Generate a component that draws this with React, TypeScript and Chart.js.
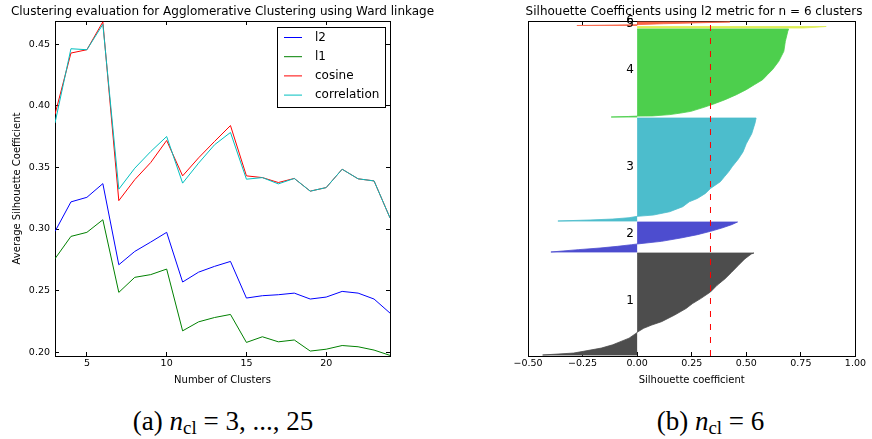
import React, { useEffect, useRef } from 'react';
import { Chart, registerables } from 'chart.js';

Chart.register(...registerables);
Chart.defaults.font.family = "'DejaVu Sans', sans-serif";
Chart.defaults.color = '#000';

// ---------- (a) clustering evaluation ----------
const clusterCounts = [3, 4, 5, 6, 7, 8, 9, 10, 11, 12, 13, 14, 15, 16, 17, 18, 19, 20, 21, 22, 23, 24];
const l2Scores = [0.298, 0.322, 0.3257, 0.3368, 0.271, 0.2818, 0.2894, 0.2973, 0.257, 0.265, 0.2697, 0.2737, 0.244, 0.2459, 0.2467, 0.248, 0.2432, 0.2448, 0.2494, 0.248, 0.2432, 0.2318];
const l1Scores = [0.2759, 0.294, 0.2973, 0.3075, 0.2486, 0.2608, 0.263, 0.2675, 0.2174, 0.2247, 0.2282, 0.2307, 0.208, 0.2126, 0.2085, 0.21, 0.201, 0.2025, 0.2055, 0.2045, 0.2018, 0.1975];
const cosineScores = [0.393, 0.4427, 0.4454, 0.468, 0.323, 0.34, 0.3539, 0.3718, 0.3431, 0.3577, 0.371, 0.3839, 0.3431, 0.3417, 0.3377, 0.341, 0.3307, 0.3336, 0.3485, 0.3407, 0.339, 0.309];
const correlationScores = [0.386, 0.4462, 0.4454, 0.466, 0.3323, 0.3493, 0.3628, 0.375, 0.3372, 0.3534, 0.3683, 0.3783, 0.3404, 0.3417, 0.3366, 0.341, 0.3307, 0.3336, 0.3485, 0.3407, 0.339, 0.309];
const metricNames = ['l2', 'l1', 'cosine', 'correlation'];
const metricColors = ['#0000ff', '#008000', '#ff0000', '#00bfbf'];
const evalYMin = 0.197;
const evalYMax = 0.4687;

// ---------- (b) silhouette plot ----------
const clusterLabels = ['1', '2', '3', '4', '5', '6'];
const clusterSizes = [1020, 300, 1030, 880, 15, 35];
const clusterGap = 10;
const silhouetteAvg = 0.336;
const clusterColors = ['rgb(77,77,77)', 'rgb(77,77,207)', 'rgb(76,189,204)', 'rgb(77,207,77)', 'rgb(222,238,84)', 'rgb(250,100,70)'];

const cluster1Rank = [0, 0.019, 0.036, 0.068, 0.1, 0.133, 0.165, 0.214, 0.223, 0.262, 0.294, 0.327, 0.392, 0.456, 0.505, 0.553, 0.618, 0.683, 0.748, 0.812, 0.877, 0.942, 0.99, 1];
const cluster1Silhouette = [-0.433, -0.291, -0.246, -0.164, -0.112, -0.074, -0.037, -0.004, 0, 0.03, 0.067, 0.112, 0.172, 0.224, 0.254, 0.291, 0.336, 0.366, 0.403, 0.433, 0.463, 0.493, 0.523, 0.535];
const cluster2Rank = [0, 0.078, 0.133, 0.189, 0.244, 0.267, 0.356, 0.467, 0.578, 0.689, 0.8, 0.911, 1];
const cluster2Silhouette = [-0.395, -0.27, -0.17, -0.09, -0.025, 0, 0.112, 0.2, 0.276, 0.336, 0.388, 0.433, 0.46];
const cluster3Rank = [0, 0.01, 0.019, 0.032, 0.045, 0.058, 0.09, 0.139, 0.187, 0.219, 0.268, 0.316, 0.381, 0.43, 0.48, 0.526, 0.6, 0.671, 0.75, 0.848, 0.95, 1];
const cluster3Silhouette = [-0.363, -0.216, -0.112, -0.037, 0, 0.075, 0.149, 0.209, 0.239, 0.276, 0.313, 0.336, 0.381, 0.4, 0.42, 0.435, 0.463, 0.485, 0.5, 0.525, 0.54, 0.545];
const cluster4Rank = [0, 0.006, 0.01, 0.012, 0.027, 0.045, 0.064, 0.11, 0.148, 0.197, 0.254, 0.311, 0.367, 0.424, 0.481, 0.538, 0.633, 0.746, 0.86, 0.973, 1];
const cluster4Silhouette = [-0.119, -0.04, 0, 0.07, 0.15, 0.2, 0.246, 0.306, 0.351, 0.403, 0.455, 0.5, 0.537, 0.575, 0.597, 0.62, 0.649, 0.672, 0.679, 0.69, 0.694];
const cluster5Rank = [0, 0.5, 1];
const cluster5Silhouette = [0.76, 0.82, 0.866];
const cluster6Rank = [0, 0.1, 0.2, 0.25, 0.5, 0.75, 1];
const cluster6Silhouette = [-0.276, -0.15, -0.04, 0, 0.12, 0.27, 0.425];

const clusterRanks = [cluster1Rank, cluster2Rank, cluster3Rank, cluster4Rank, cluster5Rank, cluster6Rank];
const clusterValues = [cluster1Silhouette, cluster2Silhouette, cluster3Silhouette, cluster4Silhouette, cluster5Silhouette, cluster6Silhouette];
const silYMax = clusterSizes.reduce((a, b) => a + b, 0) + (clusterSizes.length + 1) * clusterGap;
const clusterLower = clusterSizes.map((_, k) => clusterGap + clusterSizes.slice(0, k).reduce((a, b) => a + b + clusterGap, 0));

const tickFont = { size: 9.5 };
const labelFont = { size: 10 };
const titleFont = { size: 12, weight: 'normal' as const };

function frameGrid(show: boolean) {
  return { display: show, drawOnChartArea: false, drawTicks: true, tickLength: -4, color: '#000', lineWidth: 1 };
}
const border = { display: true, color: '#000', width: 1 };

const evalLegendPlugin = {
  id: 'evalLegend',
  afterDraw(chart: any) {
    const { ctx, chartArea } = chart;
    const w = 108, h = 80;
    const x0 = Math.round(chartArea.right - 5 - w);
    const y0 = Math.round(chartArea.top + 6);
    ctx.save();
    ctx.fillStyle = '#fff';
    ctx.fillRect(x0, y0, w, h);
    ctx.strokeStyle = '#000';
    ctx.lineWidth = 1;
    ctx.strokeRect(x0 + 0.5, y0 + 0.5, w, h);
    ctx.font = "12px 'DejaVu Sans'";
    ctx.textBaseline = 'middle';
    ctx.textAlign = 'left';
    chart.data.datasets.forEach((ds: any, i: number) => {
      const cy = y0 + 10.5 + i * 19.2;
      ctx.strokeStyle = ds.borderColor;
      ctx.beginPath();
      ctx.moveTo(x0 + 7, cy);
      ctx.lineTo(x0 + 25, cy);
      ctx.stroke();
      ctx.fillStyle = '#000';
      ctx.fillText(ds.label, x0 + 38, cy);
    });
    ctx.restore();
  },
};

const clusterLabelPlugin = {
  id: 'clusterLabels',
  afterDatasetsDraw(chart: any) {
    const { ctx } = chart;
    const xs = chart.scales.x, ys = chart.scales.y;
    ctx.save();
    ctx.font = "12px 'DejaVu Sans'";
    ctx.fillStyle = '#000';
    ctx.textAlign = 'left';
    ctx.textBaseline = 'alphabetic';
    clusterLabels.forEach((lab, k) => {
      const mid = clusterLower[k] + 0.5 * clusterSizes[k];
      ctx.fillText(lab, xs.getPixelForValue(-0.05), ys.getPixelForValue(mid));
    });
    ctx.restore();
  },
};

function EvalChart() {
  const ref = useRef<HTMLCanvasElement>(null);
  useEffect(() => {
    const series = [l2Scores, l1Scores, cosineScores, correlationScores];
    const chart = new Chart(ref.current!, {
      type: 'line',
      data: {
        datasets: series.map((s, i) => ({
          label: metricNames[i],
          data: clusterCounts.map((x, j) => ({ x, y: s[j] })),
          borderColor: metricColors[i],
          backgroundColor: metricColors[i],
          borderWidth: 1,
          pointRadius: 0,
          tension: 0,
          fill: false,
          order: 3 - i,
        })),
      },
      options: {
        animation: false,
        responsive: false,
        events: [],
        layout: { padding: { left: 5, right: 0, top: 0, bottom: 0 } },
        plugins: {
          legend: { display: false },
          tooltip: { enabled: false },
          title: {
            display: true,
            text: 'Clustering evaluation for Agglomerative Clustering using Ward linkage',
            fullSize: true,
            font: titleFont,
            color: '#000',
            padding: { top: 4.8, bottom: 1.8 },
          },
        },
        scales: {
          x: {
            type: 'linear', position: 'bottom', min: clusterCounts[0], max: clusterCounts[clusterCounts.length - 1],
            ticks: { stepSize: 5, includeBounds: false, padding: 6, font: tickFont, color: '#000', maxRotation: 0 },
            grid: frameGrid(true), border,
            title: { display: true, text: 'Number of Clusters', font: labelFont, color: '#000', padding: { top: 0, bottom: 9 } },
            afterFit: (s: any) => { s.height = 39; },
          },
          x2: {
            type: 'linear', position: 'top', min: clusterCounts[0], max: clusterCounts[clusterCounts.length - 1],
            ticks: { stepSize: 5, includeBounds: false, display: false },
            grid: frameGrid(true), border,
            afterFit: (s: any) => { s.height = 0; },
          },
          y: {
            type: 'linear', position: 'left', min: evalYMin, max: evalYMax,
            ticks: { stepSize: 0.05, includeBounds: false, padding: 9, font: tickFont, color: '#000', callback: (v: any) => Number(v).toFixed(2) },
            grid: frameGrid(true), border,
            title: { display: true, text: 'Average Silhouette Coefficient', font: labelFont, color: '#000', padding: { top: 6, bottom: 0 } },
            afterFit: (s: any) => { s.width = 50; },
          },
          y2: {
            type: 'linear', position: 'right', min: evalYMin, max: evalYMax,
            ticks: { stepSize: 0.05, includeBounds: false, display: false },
            grid: frameGrid(true), border,
            afterFit: (s: any) => { s.width = 50; },
          },
        },
      } as any,
      plugins: [evalLegendPlugin],
    });
    return () => chart.destroy();
  }, []);
  return <canvas ref={ref} width={440} height={395} style={{ position: 'absolute', left: 0, top: 0, width: 440, height: 395 }} />;
}

function SilhouetteChart() {
  const ref = useRef<HTMLCanvasElement>(null);
  useEffect(() => {
    const clusterSets = clusterSizes.map((size, k) => {
      const lower = clusterLower[k];
      const pts = [{ x: 0, y: lower }];
      clusterRanks[k].forEach((f, i) => pts.push({ x: clusterValues[k][i], y: lower + f * size }));
      pts.push({ x: 0, y: lower + size });
      return {
        label: clusterLabels[k],
        data: pts,
        borderColor: clusterColors[k],
        backgroundColor: clusterColors[k],
        borderWidth: 0.8,
        pointRadius: 0,
        tension: 0,
        fill: 'shape',
        order: 1,
      };
    });
    const avgLine = {
      label: 'avg',
      data: [{ x: silhouetteAvg, y: 0 }, { x: silhouetteAvg, y: silYMax }],
      borderColor: '#ff0000',
      borderWidth: 1,
      borderDash: [6, 7],
      pointRadius: 0,
      fill: false,
      order: -1,
    };
    const chart = new Chart(ref.current!, {
      type: 'line',
      data: { datasets: [...clusterSets, avgLine] },
      options: {
        animation: false,
        responsive: false,
        events: [],
        layout: { padding: { left: 76, right: 0, top: 0, bottom: 0 } },
        plugins: {
          legend: { display: false },
          tooltip: { enabled: false },
          title: {
            display: true,
            text: 'Silhouette Coefficients using l2 metric for n = 6 clusters',
            fullSize: true,
            font: titleFont,
            color: '#000',
            padding: { top: 4.8, bottom: 1.8 },
          },
        },
        scales: {
          x: {
            type: 'linear', position: 'bottom', min: -0.5, max: 1.0,
            ticks: { stepSize: 0.25, padding: 6, font: tickFont, color: '#000', maxRotation: 0, autoSkip: false,
              callback: (v: any) => Number(v).toFixed(2).replace('-', '\u2212') },
            grid: frameGrid(true), border,
            title: { display: true, text: 'Silhouette coefficient', font: labelFont, color: '#000', padding: { top: 0, bottom: 9 } },
            afterFit: (s: any) => { s.height = 39; },
          },
          x2: {
            type: 'linear', position: 'top', min: -0.5, max: 1.0,
            ticks: { stepSize: 0.25, display: false },
            grid: frameGrid(true), border,
            afterFit: (s: any) => { s.height = 0; },
          },
          y: {
            type: 'linear', position: 'left', min: 0, max: silYMax,
            ticks: { display: false },
            grid: { display: false }, border,
            afterFit: (s: any) => { s.width = 12; },
          },
          y2: {
            type: 'linear', position: 'right', min: 0, max: silYMax,
            ticks: { display: false },
            grid: { display: false }, border,
            afterFit: (s: any) => { s.width = 11; },
          },
        },
      } as any,
      plugins: [clusterLabelPlugin],
    });
    return () => chart.destroy();
  }, []);
  return <canvas ref={ref} width={432} height={395} style={{ position: 'absolute', left: 440, top: 0, width: 432, height: 395 }} />;
}

const captionStyle: React.CSSProperties = {
  position: 'absolute',
  top: 408,
  textAlign: 'center',
  fontFamily: "'Liberation Serif', serif",
  fontSize: 27,
  lineHeight: '27px',
  color: '#000',
  whiteSpace: 'nowrap',
};
const subStyle: React.CSSProperties = { fontSize: '0.7em', position: 'relative', top: '0.22em' };

export default function App() {
  return (
    <div style={{ position: 'absolute', left: 0, top: 0, width: 872, height: 439, overflow: 'hidden', background: '#fff' }}>
      <EvalChart />
      <SilhouetteChart />
      <div style={{ ...captionStyle, left: 0, width: 446 }}>
        (a) <i>n</i><span style={subStyle}>cl</span> = 3, ..., 25
      </div>
      <div style={{ ...captionStyle, left: 560, width: 301 }}>
        (b) <i>n</i><span style={subStyle}>cl</span> = 6
      </div>
    </div>
  );
}
